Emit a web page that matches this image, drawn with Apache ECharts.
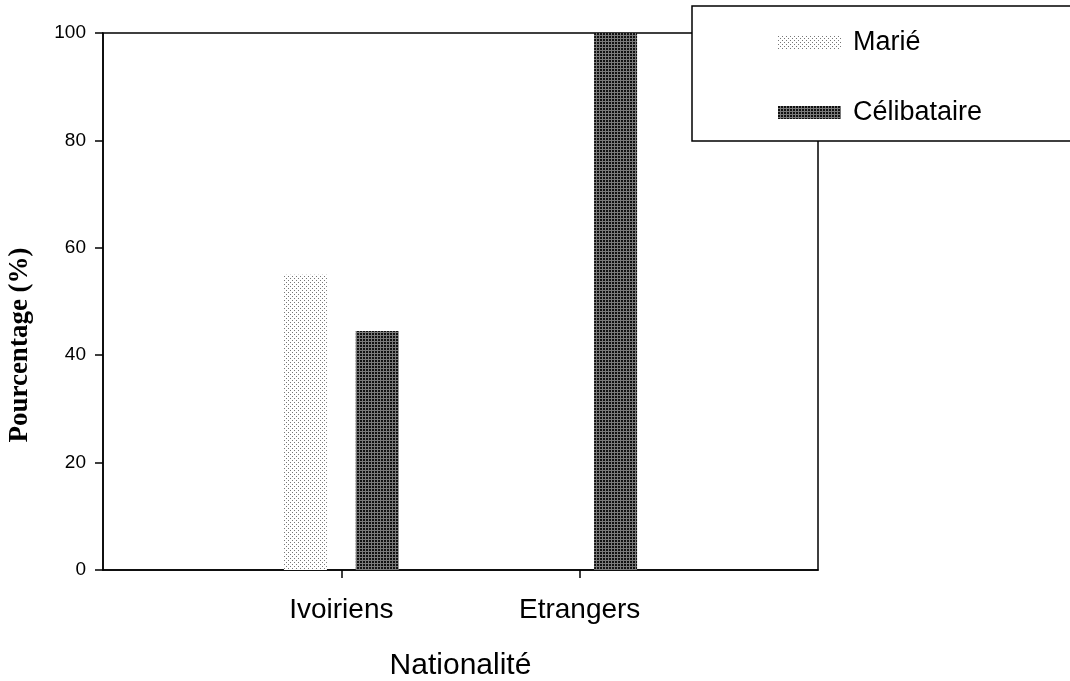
<!DOCTYPE html>
<html><head><meta charset="utf-8">
<script src="https://cdn.jsdelivr.net/npm/echarts@6/dist/echarts.min.js"></script>
<style>html,body{margin:0;padding:0;background:#fff}#c{width:1070px;height:681px}</style>
</head><body><div id="c"></div>
<script>
const categories = ['', 'Ivoiriens', 'Etrangers', ''];
const marieValues = [null, 55, 0, null];
const celibValues = [null, 44.5, 100, null];
const yTicks = [0, 20, 40, 60, 80, 100];

function makePattern(size, bg, dots) {
  const c = document.createElement('canvas');
  c.width = size; c.height = size;
  const g = c.getContext('2d');
  g.fillStyle = bg; g.fillRect(0, 0, size, size);
  dots.forEach(d => { g.fillStyle = d[2]; g.fillRect(d[0], d[1], 1, 1); });
  return { image: c, repeat: 'repeat' };
}
const mariePat = makePattern(4, '#ffffff', [[0,0,'#777'],[2,2,'#777']]);
const celibPat = (function(){
  const c = document.createElement('canvas');
  c.width = 3; c.height = 3;
  const g = c.getContext('2d');
  g.fillStyle = '#7a7a7a'; g.fillRect(0,0,3,3);
  g.fillStyle = '#111'; g.fillRect(0,0,2,2);
  return { image: c, repeat: 'repeat' };
})();

const chart = echarts.init(document.getElementById('c'));
chart.setOption({
  animation: false,
  grid: { left: 103, right: 252, top: 33, bottom: 111, outerBoundsMode: 'none', containLabel: false, show: true, borderColor: '#000', borderWidth: 1.5, backgroundColor: 'transparent' },
  graphic: [
    { type: 'rect', x: 692, y: 6, shape: { width: 400, height: 135 }, style: { fill: '#fff', stroke: '#000', lineWidth: 1.5 }, z: 5 },
    { type: 'text', x: 20, y: 345, rotation: Math.PI/2, style: { text: 'Pourcentage (%)', font: 'bold 27px "Liberation Serif"', fill: '#000', align: 'center', verticalAlign: 'middle' } }
  ],
  legend: {
    left: 773, top: 24, orient: 'vertical', itemWidth: 63, itemHeight: 13, itemGap: 43, z: 10,
    textStyle: { fontFamily: 'Liberation Sans', fontSize: 27, color: '#000', padding: [0,0,0,7] },
    data: [{ name: 'Marié', icon: 'rect' }, { name: 'Célibataire', icon: 'rect' }]
  },
  xAxis: {
    type: 'category', data: categories, boundaryGap: false,
    name: 'Nationalité', nameLocation: 'middle', nameGap: 81,
    nameTextStyle: { fontFamily: 'Liberation Sans', fontSize: 30, color: '#000' },
    axisLine: { lineStyle: { color: '#000', width: 1.5 } },
    axisTick: { show: true, length: 8, inside: false, interval: (i) => i === 1 || i === 2, lineStyle: { color: '#000', width: 1.5 } },
    axisLabel: { interval: (i) => i === 1 || i === 2, margin: 26, fontFamily: 'Liberation Sans', fontSize: 28, color: '#000' },
    splitLine: { show: false }
  },
  yAxis: {
    type: 'value', min: 0, max: 100, interval: 20,
    axisLine: { show: true, lineStyle: { color: '#000', width: 1.5 } },
    axisTick: { show: true, length: 8, lineStyle: { color: '#000', width: 1.5 } },
    axisLabel: { margin: 17, fontFamily: 'Liberation Sans', fontSize: 19, color: '#000', formatter: (v) => yTicks.includes(v) ? String(v) : '' },
    splitLine: { show: false }
  },
  series: [
    { name: 'Marié', type: 'bar', data: marieValues, barWidth: 43, barGap: '67%', itemStyle: { color: mariePat } },
    { name: 'Célibataire', type: 'bar', data: celibValues, barWidth: 43, barGap: '67%', itemStyle: { color: celibPat } }
  ]
});
</script></body></html>
